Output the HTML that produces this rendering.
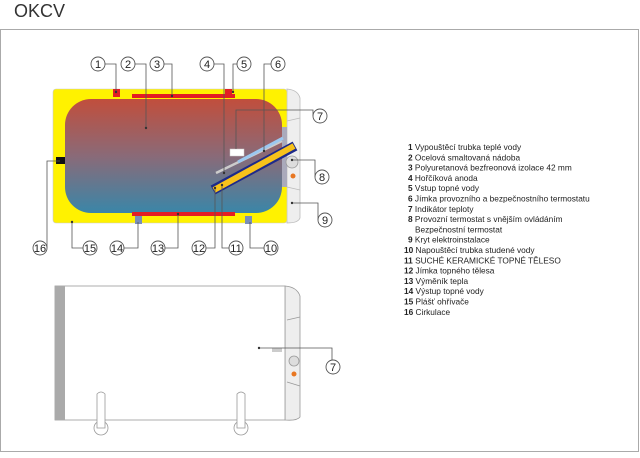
<!DOCTYPE html>
<html><head><meta charset="utf-8"><style>
body{margin:0;background:#fff;width:640px;height:453px;overflow:hidden;font-family:"Liberation Sans",sans-serif}
</style></head><body>
<svg width="640" height="453" viewBox="0 0 640 453" xmlns="http://www.w3.org/2000/svg" font-family="Liberation Sans, sans-serif">
<defs>
<linearGradient id="tank" x1="0" y1="0" x2="0" y2="1">
<stop offset="0" stop-color="#c14e3c"/><stop offset="0.5" stop-color="#8a6a78"/><stop offset="1" stop-color="#3a86a8"/>
</linearGradient>
</defs>
<text x="14" y="17" font-size="18" fill="#333">OKCV</text>
<rect x="0.5" y="29.5" width="638" height="422" fill="none" stroke="#aaa"/>

<!-- top heater -->
<path d="M287 89 Q298 90 300 98 L300 218 Q298 223 287 223 Z" fill="#eee" stroke="#bbb" stroke-width="0.8"/>
<line x1="287" y1="121" x2="300" y2="118" stroke="#bbb" stroke-width="0.8"/>
<line x1="287" y1="187" x2="300" y2="190" stroke="#bbb" stroke-width="0.8"/>
<rect x="53" y="89" width="234" height="134" rx="3" fill="#fff200" stroke="#ccc" stroke-width="0.6"/>
<rect x="65" y="99" width="217" height="114" rx="26" fill="url(#tank)"/>
<rect x="132" y="94" width="103" height="4" fill="#e31e24"/>
<rect x="132" y="212" width="103" height="4" fill="#e31e24"/>
<rect x="113" y="89" width="7" height="8" fill="#e31e24"/>
<rect x="225" y="89" width="7" height="8" fill="#e31e24"/>
<rect x="135" y="216" width="7" height="8" fill="#7a8fb8"/>
<rect x="245" y="216" width="7" height="8" fill="#7a8fb8"/>
<rect x="56" y="157" width="9" height="7" fill="#111"/>
<rect x="282" y="127" width="5" height="60" fill="#aab"/>
<circle cx="292" cy="162" r="6" fill="#ddd" stroke="#999" stroke-width="0.8"/>
<circle cx="293" cy="176" r="2.5" fill="#e87722"/>
<line x1="216" y1="173" x2="282" y2="141" stroke="#ccc" stroke-width="2.5"/>
<line x1="238" y1="162" x2="283" y2="138" stroke="#9cc8f0" stroke-width="3"/>
<line x1="213" y1="190" x2="295" y2="146" stroke="#1d2a8a" stroke-width="10"/>
<line x1="214" y1="190" x2="294" y2="146" stroke="#f7c21b" stroke-width="6"/>
<rect x="230" y="149" width="14" height="7" fill="#fff" stroke="#ccc" stroke-width="0.5"/>

<g stroke="#555" stroke-width="0.8" fill="none">
<polyline points="105,64 116,64 116,92"/>
<polyline points="135,64 146,64 146,128"/>
<polyline points="164,64 172,64 172,96"/>
<polyline points="214,64 224,64 224,173"/>
<polyline points="251,64 233,64 233,92"/>
<polyline points="271,64 264,64 264,151"/>
<polyline points="313,116 313,110 236,110 236,149"/>
<polyline points="315,177 315,160 292,160"/>
<polyline points="318,220 318,203 292,203"/>
<polyline points="47,248 47,161 60,161"/>
<polyline points="83,248 72,248 72,222"/>
<polyline points="110,248 138,248 138,222"/>
<polyline points="165,248 178,248 178,214"/>
<polyline points="206,248 215,248 215,188"/>
<polyline points="229,248 222,248 222,185"/>
<polyline points="264,248 250,248 250,222"/>
</g>
<g fill="#333"><circle cx="116" cy="92" r="1.2"/><circle cx="146" cy="128" r="1.2"/><circle cx="172" cy="96" r="1.2"/><circle cx="224" cy="173" r="1.2"/><circle cx="233" cy="92" r="1.2"/><circle cx="264" cy="151" r="1.2"/><circle cx="292" cy="160" r="1.2"/><circle cx="292" cy="203" r="1.2"/><circle cx="72" cy="222" r="1.2"/><circle cx="178" cy="214" r="1.2"/><circle cx="215" cy="188" r="1.2"/><circle cx="222" cy="185" r="1.2"/></g>

<g font-size="11" text-anchor="middle" fill="#222">
<g fill="#fff" stroke="#555" stroke-width="0.9">
<circle cx="98" cy="64" r="7"/><circle cx="128" cy="64" r="7"/><circle cx="157" cy="64" r="7"/><circle cx="207" cy="64" r="7"/><circle cx="244" cy="64" r="7"/><circle cx="278" cy="64" r="7"/><circle cx="320" cy="116" r="7"/><circle cx="322" cy="177" r="7"/><circle cx="325" cy="220" r="7"/><circle cx="40" cy="248" r="7"/><circle cx="90" cy="248" r="7"/><circle cx="117" cy="248" r="7"/><circle cx="158" cy="248" r="7"/><circle cx="199" cy="248" r="7"/><circle cx="236" cy="248" r="7"/><circle cx="271" cy="248" r="7"/><circle cx="333" cy="367" r="7"/>
</g>
<text x="98" y="68">1</text><text x="128" y="68">2</text><text x="157" y="68">3</text><text x="207" y="68">4</text><text x="244" y="68">5</text><text x="278" y="68">6</text><text x="320" y="120">7</text><text x="322" y="181">8</text><text x="325" y="224">9</text><text x="40" y="252">16</text><text x="90" y="252">15</text><text x="117" y="252">14</text><text x="158" y="252">13</text><text x="199" y="252">12</text><text x="236" y="252">11</text><text x="271" y="252">10</text><text x="333" y="371">7</text>
</g>

<!-- bottom heater -->
<path d="M285 286 Q297 287 300 296 L300 417 Q297 421 285 420 Z" fill="#eee" stroke="#999" stroke-width="0.8"/>
<line x1="287" y1="320" x2="300" y2="317" stroke="#999" stroke-width="0.8"/>
<line x1="287" y1="382" x2="300" y2="386" stroke="#999" stroke-width="0.8"/>
<rect x="55" y="286" width="230" height="134" fill="#fff" stroke="#999" stroke-width="0.8"/>
<rect x="55" y="286" width="10" height="134" fill="#aaa"/>
<circle cx="294" cy="361" r="5" fill="#ddd" stroke="#999" stroke-width="0.8"/>
<circle cx="294" cy="374" r="2.5" fill="#e87722"/>
<rect x="272" y="348" width="10" height="4" fill="#ccc"/>
<polyline points="259,348 332,348 332,360" fill="none" stroke="#555" stroke-width="0.8"/>
<circle cx="259" cy="348" r="1.2" fill="#333"/>
<g fill="#fff" stroke="#999" stroke-width="0.8">
<circle cx="101" cy="428" r="7"/><circle cx="241" cy="428" r="7"/>
<path d="M97 394 Q101 390 105 394 L105 428 L97 428 Z"/><path d="M237 394 Q241 390 245 394 L245 428 L237 428 Z"/>
</g>

<g font-size="8.3" fill="#222">
<text x="408" y="150"><tspan font-weight="bold">1</tspan> Vypouštěcí trubka teplé vody</text>
<text x="408" y="160.3"><tspan font-weight="bold">2</tspan> Ocelová smaltovaná nádoba</text>
<text x="408" y="170.6"><tspan font-weight="bold">3</tspan> Polyuretanová bezfreonová izolace 42 mm</text>
<text x="408" y="180.9"><tspan font-weight="bold">4</tspan> Hořčíková anoda</text>
<text x="408" y="191.2"><tspan font-weight="bold">5</tspan> Vstup topné vody</text>
<text x="408" y="201.5"><tspan font-weight="bold">6</tspan> Jímka provozního a bezpečnostního termostatu</text>
<text x="408" y="211.8"><tspan font-weight="bold">7</tspan> Indikátor teploty</text>
<text x="408" y="222.1"><tspan font-weight="bold">8</tspan> Provozní termostat s vnějším ovládáním</text>
<text x="415" y="232.4">Bezpečnostní termostat</text>
<text x="408" y="242.7"><tspan font-weight="bold">9</tspan> Kryt elektroinstalace</text>
<text x="404" y="253"><tspan font-weight="bold">10</tspan> Napouštěcí trubka studené vody</text>
<text x="404" y="263.3"><tspan font-weight="bold">11</tspan> SUCHÉ KERAMICKÉ TOPNÉ TĚLESO</text>
<text x="404" y="273.6"><tspan font-weight="bold">12</tspan> Jímka topného tělesa</text>
<text x="404" y="283.9"><tspan font-weight="bold">13</tspan> Výměník tepla</text>
<text x="404" y="294.2"><tspan font-weight="bold">14</tspan> Výstup topné vody</text>
<text x="404" y="304.5"><tspan font-weight="bold">15</tspan> Plášť ohřívače</text>
<text x="404" y="314.8"><tspan font-weight="bold">16</tspan> Cirkulace</text>
</g>
</svg>
</body></html>
